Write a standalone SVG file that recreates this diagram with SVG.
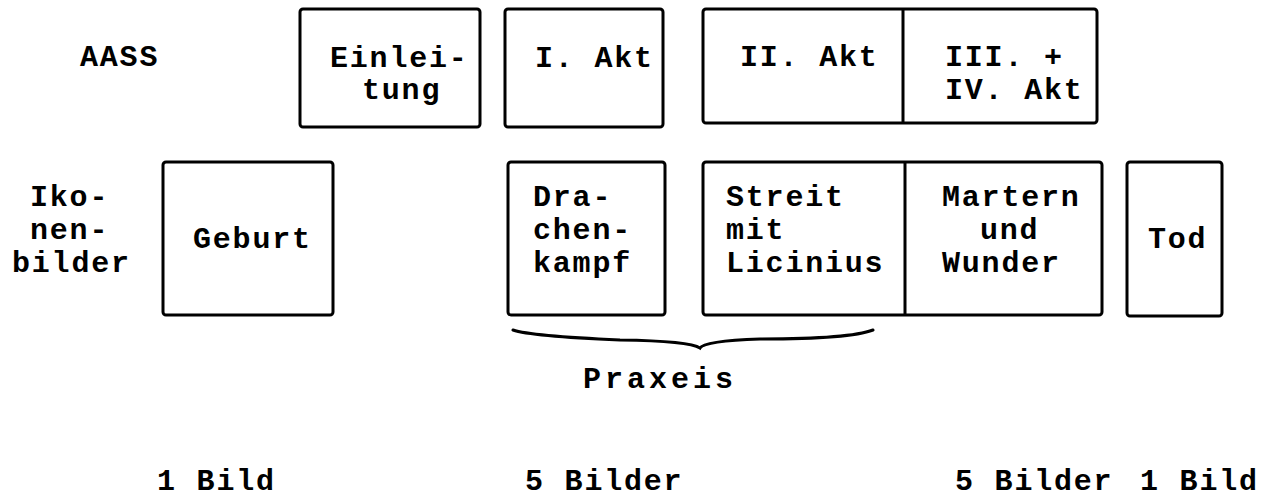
<svg xmlns="http://www.w3.org/2000/svg" width="1261" height="501" viewBox="0 0 1261 501">
<style>
.box{fill:none;stroke:#000;stroke-width:3;}
.t{font-family:"Liberation Mono","DejaVu Sans Mono",monospace;font-size:30px;letter-spacing:1.8px;font-weight:bold;fill:#000;}
.wide{letter-spacing:4px;}
.ln{fill:none;stroke:#000;stroke-width:3;stroke-linecap:round;}
</style>
<rect width="1261" height="501" fill="#fff"/>
<g id="label-aass"><text class="t" x="80" y="66">AASS</text></g>
<g id="label-ikonen">
<text class="t" x="30" y="206">Iko-</text>
<text class="t" x="30" y="239">nen-</text>
<text class="t" x="12" y="272">bilder</text>
</g>
<g id="einleitung"><rect class="box" x="300" y="9" width="180" height="118" rx="3"/>
<text class="t" x="330" y="67">Einlei-</text><text class="t" x="362" y="99">tung</text></g>
<g id="akt1"><rect class="box" x="505" y="9" width="158" height="118" rx="3"/>
<text class="t" x="535" y="67">I. Akt</text></g>
<g id="akt2-4"><rect class="box" x="703" y="9" width="394" height="114" rx="3"/>
<line class="ln" x1="903" y1="10" x2="903" y2="122"/>
<text class="t" x="740" y="66">II. Akt</text>
<text class="t" x="945" y="66">III. +</text>
<text class="t" x="945" y="99">IV. Akt</text></g>
<g id="geburt"><rect class="box" x="163" y="162" width="170" height="153" rx="3"/>
<text class="t" x="193" y="248">Geburt</text></g>
<g id="drachenkampf"><rect class="box" x="508" y="162" width="157" height="153" rx="3"/>
<text class="t" x="533" y="206">Dra-</text><text class="t" x="533" y="239">chen-</text><text class="t" x="533" y="272">kampf</text></g>
<g id="streit-martern"><rect class="box" x="703" y="162" width="399" height="153" rx="3"/>
<line class="ln" x1="905" y1="163" x2="905" y2="314"/>
<text class="t" x="726" y="206">Streit</text><text class="t" x="726" y="239">mit</text><text class="t" x="726" y="272">Licinius</text>
<text class="t" x="942" y="206">Martern</text><text class="t" x="980" y="239">und</text><text class="t" x="942" y="272">Wunder</text></g>
<g id="tod"><rect class="box" x="1127" y="162" width="95" height="154" rx="3"/>
<text class="t" x="1148" y="248">Tod</text></g>
<g id="connectors">
<path class="ln" d="M513 330 Q530 336 620 340 Q690 341 700 348 Q704 341 760 339 Q850 339 873 330"/>
</g>
<g id="label-praxeis"><text class="t wide" x="583" y="388">Praxeis</text></g>
<g id="counts">
<text class="t" x="157" y="490">1 Bild</text>
<text class="t" x="525" y="490">5 Bilder</text>
<text class="t" x="955" y="490">5 Bilder</text>
<text class="t" x="1140" y="490">1 Bild</text>
</g>
</svg>
